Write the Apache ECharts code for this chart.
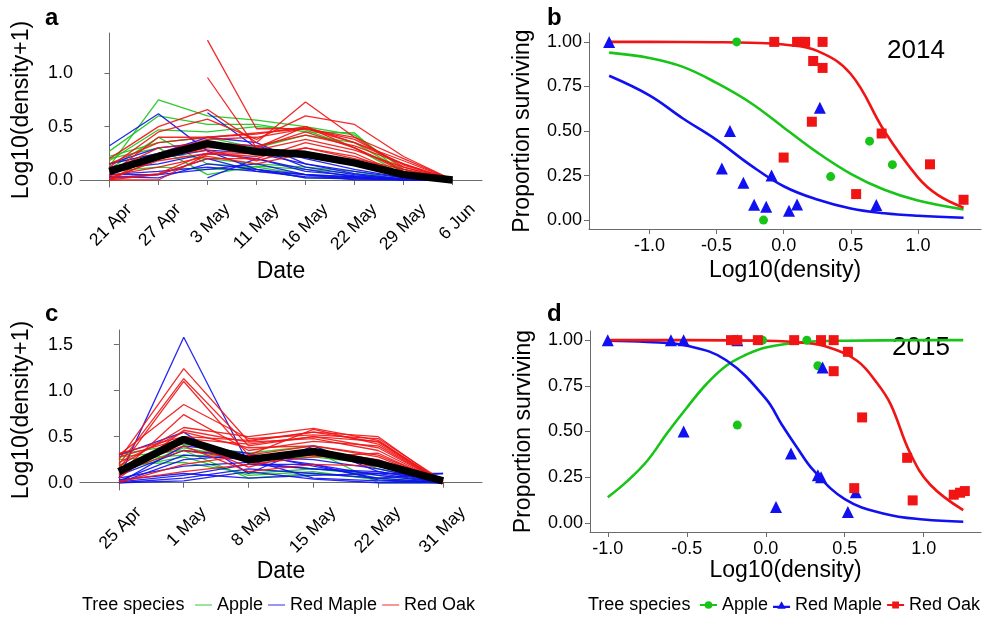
<!DOCTYPE html>
<html><head><meta charset="utf-8">
<script src="https://cdn.jsdelivr.net/npm/echarts@6/dist/echarts.min.js"></script>
<style>html,body{margin:0;padding:0;background:#fff}#c{width:985px;height:617px}</style>
</head><body><div id="c"></div><script>
// ---------- DATA ----------
const datesA = ['21 Apr','27 Apr','3 May','11 May','16 May','22 May','29 May','6 Jun'];
const datesC = ['25 Apr','1 May','8 May','15 May','22 May','31 May'];
const yTicksA = [0, 0.5, 1.0];
const yTicksC = [0, 0.5, 1.0, 1.5];
const yTicksBD = [0, 0.25, 0.5, 0.75, 1.0];
const xTicksBD = [-1.0, -0.5, 0.0, 0.5, 1.0];

// panel a (2014) individual trees, log10(density+1)
const appleA = [
  [0.13,0.75,0.60,0.56,0.50,0.42,0.10,0.0],
  [0.27,0.60,0.52,0.52,0.45,0.44,0.05,0.0],
  [0.18,0.47,0.45,0.50,0.47,0.30,0.05,0.0],
  [0.10,0.40,0.15,0.12,0.05,0.03,0.0,0.0],
  [0.20,0.30,0.05,0.13,0.10,0.06,0.0,0.0],
  [0.15,0.25,0.20,0.15,0.12,0.08,0.0,0.0],
  [0.08,0.12,0.10,0.10,0.02,0.01,0.0,0.0],
  [0.22,0.35,0.40,0.30,0.42,0.35,0.08,0.0]
];
const mapleA = [
  [0.32,0.62,0.27,0.10,0.05,0.03,0.0,0.0],
  [0.15,0.25,0.40,0.35,0.15,0.08,0.02,0.0],
  [null,null,0.63,0.30,0.12,0.05,0.0,0.0],
  [null,null,0.02,0.20,0.10,0.03,0.0,0.0],
  [0.05,0.05,0.20,0.08,0.05,0.02,0.0,0.0],
  [0.03,0.02,0.15,0.10,0.02,0.01,0.0,0.0],
  [0.10,0.15,0.25,0.20,0.08,0.04,0.01,0.0],
  [0.15,0.30,0.35,0.32,0.20,0.10,0.02,0.0],
  [0.05,0.08,0.12,0.08,0.03,0.02,0.0,0.0],
  [0.12,0.20,0.28,0.25,0.15,0.06,0.01,0.0],
  [0.02,0.05,0.10,0.15,0.05,0.0,0.0,0.0]
];
const oakA = [
  [null,null,1.31,0.48,0.48,0.40,0.20,0.0],
  [null,null,0.96,0.30,0.50,0.35,0.15,0.0],
  [0.20,0.50,0.66,0.35,0.73,0.40,0.12,0.0],
  [0.12,0.45,0.57,0.38,0.60,0.52,0.22,0.0],
  [0.05,0.40,0.40,0.43,0.50,0.30,0.10,0.0],
  [0.0,0.25,0.38,0.40,0.48,0.35,0.18,0.0],
  [0.0,0.20,0.30,0.30,0.45,0.30,0.08,0.0],
  [0.02,0.18,0.25,0.28,0.38,0.28,0.12,0.0],
  [0.0,0.05,0.20,0.20,0.35,0.25,0.05,0.0],
  [0.01,0.06,0.25,0.22,0.30,0.20,0.10,0.0],
  [0.0,0.0,0.24,0.25,0.22,0.15,0.04,0.0],
  [0.08,0.30,0.35,0.32,0.42,0.32,0.15,0.0],
  [0.10,0.22,0.28,0.18,0.30,0.22,0.06,0.0],
  [0.15,0.35,0.40,0.44,0.48,0.38,0.14,0.0],
  [0.04,0.12,0.22,0.15,0.25,0.18,0.03,0.0]
];
const meanA = [0.08,0.22,0.34,0.265,0.24,0.16,0.05,0.0];

// panel c (2015)
const appleC = [
  [0.31,0.42,0.32,0.40,0.15,0.0],
  [0.28,0.35,0.05,0.10,0.05,0.0],
  [0.25,0.30,0.28,0.35,0.0,0.0],
  [0.20,0.22,0.10,0.15,0.08,0.0],
  [0.10,0.38,0.25,0.28,0.20,0.0],
  [0.15,0.28,0.08,0.12,0.03,0.0]
];
const mapleC = [
  [0.05,1.58,0.20,0.15,0.10,0.0],
  [0.30,0.55,0.10,0.40,0.12,0.0],
  [0.0,0.40,0.32,0.18,0.05,0.10],
  [0.02,0.30,0.25,0.05,0.02,0.0],
  [0.0,0.05,0.15,0.10,0.05,0.0],
  [0.01,0.08,0.20,0.20,0.08,0.0],
  [0.05,0.18,0.22,0.15,0.12,0.02],
  [0.0,0.25,0.30,0.20,0.03,0.0],
  [0.03,0.10,0.05,0.08,0.10,0.10],
  [0.08,0.35,0.28,0.25,0.15,0.0],
  [0.0,0.02,0.12,0.04,0.0,0.0]
];
const oakC = [
  [0.25,1.24,0.45,0.55,0.50,0.0],
  [0.20,1.13,0.40,0.50,0.45,0.0],
  [0.15,1.10,0.30,0.58,0.42,0.0],
  [0.30,0.85,0.48,0.52,0.48,0.02],
  [0.10,0.74,0.35,0.45,0.40,0.0],
  [0.18,0.60,0.50,0.59,0.46,0.0],
  [0.05,0.57,0.44,0.48,0.35,0.0],
  [0.22,0.55,0.38,0.40,0.30,0.01],
  [0.32,0.50,0.46,0.55,0.44,0.0],
  [0.08,0.45,0.17,0.35,0.25,0.0],
  [0.02,0.12,0.20,0.28,0.32,0.0],
  [0.12,0.35,0.25,0.30,0.20,0.0],
  [0.28,0.48,0.42,0.50,0.38,0.0],
  [0.0,0.20,0.30,0.40,0.28,0.0],
  [0.15,0.40,0.12,0.20,0.18,0.0]
];
const meanC = [0.12,0.47,0.25,0.34,0.21,0.02];

// panel b (2014) survival points [log10(density), proportion]
const appleB = [[-0.35,1.0],[-0.15,0.0],[0.35,0.244],[0.64,0.443],[0.81,0.311]];
const mapleB = [[-1.30,1.0],[-0.40,0.50],[-0.46,0.29],[-0.30,0.21],[-0.09,0.25],[-0.22,0.086],[-0.13,0.075],[0.04,0.053],[0.10,0.088],[0.27,0.63],[0.69,0.085]];
const oakB = [[-0.07,1.0],[0.10,1.0],[0.13,1.0],[0.16,1.0],[0.29,1.0],[0.22,0.893],[0.29,0.854],[0.21,0.552],[0.0,0.351],[0.73,0.486],[0.54,0.146],[1.09,0.313],[1.34,0.114]];
// fitted curves
const appleFitB = [[-1.30,0.94],[-1.0,0.91],[-0.75,0.86],[-0.5,0.77],[-0.25,0.66],[0.0,0.52],[0.25,0.38],[0.5,0.26],[0.75,0.17],[1.0,0.11],[1.34,0.06]];
const mapleFitB = [[-1.30,0.81],[-1.0,0.70],[-0.75,0.57],[-0.5,0.45],[-0.25,0.31],[0.0,0.19],[0.25,0.115],[0.5,0.065],[0.75,0.038],[1.0,0.024],[1.34,0.013]];
const oakFitB = [[-1.30,1.0],[-1.0,1.0],[-0.5,0.998],[-0.25,0.995],[0.0,0.985],[0.25,0.95],[0.5,0.82],[0.75,0.50],[1.0,0.24],[1.15,0.14],[1.34,0.07]];

// panel d (2015)
const appleD = [[-0.18,0.535],[-0.02,1.0],[0.26,1.0],[0.33,0.86]];
const mapleD = [[-1.0,1.0],[-0.60,1.0],[-0.52,1.0],[-0.18,1.0],[-0.52,0.50],[0.16,0.38],[0.065,0.087],[0.33,0.26],[0.35,0.25],[0.36,0.85],[0.52,0.06],[0.57,0.167]];
const oakD = [[-0.22,1.0],[-0.18,1.0],[-0.05,1.0],[0.18,1.0],[0.35,1.0],[0.43,1.0],[0.52,0.936],[0.43,0.83],[0.61,0.577],[0.895,0.356],[0.93,0.123],[0.56,0.19],[1.19,0.154],[1.23,0.165],[1.26,0.174]];
const appleFitD = [[-1.0,0.14],[-0.875,0.23],[-0.75,0.34],[-0.625,0.49],[-0.5,0.63],[-0.375,0.76],[-0.25,0.86],[-0.125,0.92],[0.0,0.96],[0.25,0.99],[0.5,0.997],[1.0,1.0],[1.25,1.0]];
const mapleFitD = [[-1.0,0.997],[-0.75,0.99],[-0.5,0.97],[-0.25,0.89],[0.0,0.68],[0.1,0.54],[0.2,0.41],[0.3,0.29],[0.5,0.13],[0.75,0.05],[1.0,0.018],[1.25,0.006]];
const oakFitD = [[-1.0,1.0],[-0.5,1.0],[0.0,0.997],[0.25,0.985],[0.4,0.96],[0.58,0.886],[0.7,0.77],[0.79,0.65],[0.915,0.38],[1.04,0.21],[1.25,0.07]];

const species = ['Apple','Red Maple','Red Oak'];

// ---------- STYLE ----------
const GREEN = '#18c418', BLUE = '#1010f0', RED = '#f01414';
const FONT = '"Liberation Sans", Arial, Helvetica, sans-serif';
const AX = '#6b6b6b';

function xCatAxis(grid, labels, min, max, gap) {
  const idx = labels.map((_, i) => i);
  return {
    type: 'value', gridIndex: grid, min: min, max: max,
    name: 'Date', nameLocation: 'middle', nameGap: gap,
    nameTextStyle: {fontSize: 23, color: '#000', fontFamily: FONT},
    axisLine: {show: true, lineStyle: {color: AX, width: 1}},
    axisTick: {show: true, length: 5, lineStyle: {color: AX}, customValues: idx},
    axisLabel: {customValues: idx, rotate: 45, fontSize: 17.5, color: '#000', fontFamily: FONT, margin: 0,
      align: 'right', verticalAlign: 'top', padding: [19, 0, 0, 0],
      formatter: v => labels[Math.round(v)] || ''},
    splitLine: {show: false}
  };
}
function yAxisAC(grid, min, max, ticks) {
  return {
    type: 'value', gridIndex: grid, min: min, max: max,
    name: 'Log10(density+1)', nameLocation: 'middle', nameGap: 47,
    nameTextStyle: {fontSize: 23, color: '#000', fontFamily: FONT},
    axisLine: {show: true, lineStyle: {color: AX, width: 1}},
    axisTick: {show: true, length: 5, lineStyle: {color: AX}, customValues: ticks},
    axisLabel: {customValues: ticks, fontSize: 18, color: '#000', fontFamily: FONT, margin: 7,
      formatter: v => v.toFixed(1)},
    splitLine: {show: false}
  };
}
function xAxisBD(grid, min, max, gap) {
  return {
    type: 'value', gridIndex: grid, min: min, max: max,
    name: 'Log10(density)', nameLocation: 'middle', nameGap: gap,
    nameTextStyle: {fontSize: 23, color: '#000', fontFamily: FONT},
    axisLine: {show: true, onZero: false, lineStyle: {color: AX, width: 1}},
    axisTick: {show: true, length: 5, lineStyle: {color: AX}, customValues: xTicksBD},
    axisLabel: {customValues: xTicksBD, fontSize: 18, color: '#000', fontFamily: FONT, margin: 8,
      formatter: v => v.toFixed(1)},
    splitLine: {show: false}
  };
}
function yAxisBD(grid) {
  return {
    type: 'value', gridIndex: grid, min: -0.05, max: 1.05,
    name: 'Proportion surviving', nameLocation: 'middle', nameGap: 55,
    nameTextStyle: {fontSize: 23, color: '#000', fontFamily: FONT},
    axisLine: {show: true, onZero: false, lineStyle: {color: AX, width: 1}},
    axisTick: {show: true, length: 5, lineStyle: {color: AX}, customValues: yTicksBD},
    axisLabel: {customValues: yTicksBD, fontSize: 18, color: '#000', fontFamily: FONT, margin: 7,
      formatter: v => v.toFixed(2)},
    splitLine: {show: false}
  };
}

const series = [];
function addTrees(rows, color, name, ai) {
  rows.forEach(r => {
    series.push({
      type: 'line', name: name, xAxisIndex: ai, yAxisIndex: ai, symbol: 'none',
      data: r.map((v, i) => v == null ? null : [i, v]).filter(Boolean),
      lineStyle: {color: color, width: 1.3, opacity: 0.9}, itemStyle: {color: color},
      silent: true, z: 2
    });
  });
}
function addMean(vals, ai) {
  series.push({type: 'line', name: 'mean', xAxisIndex: ai, yAxisIndex: ai, symbol: 'none',
    data: vals.map((v, i) => [i, v]), lineStyle: {color: '#000', width: 7.5}, silent: true, z: 5});
}
addTrees(appleA, GREEN, 'Apple', 0); addTrees(mapleA, BLUE, 'Red Maple', 0); addTrees(oakA, RED, 'Red Oak', 0); addMean(meanA, 0);
addTrees(appleC, GREEN, 'Apple', 2); addTrees(mapleC, BLUE, 'Red Maple', 2); addTrees(oakC, RED, 'Red Oak', 2); addMean(meanC, 2);

function addSurv(ai, pts, fit, color, sym, size, name) {
  series.push({type: 'line', name: name, xAxisIndex: ai, yAxisIndex: ai, symbol: 'none', smooth: 0.4,
    data: fit, lineStyle: {color: color, width: 2.6}, itemStyle: {color: color}, silent: true, z: 3});
  series.push({type: 'scatter', name: name, xAxisIndex: ai, yAxisIndex: ai, symbol: sym, symbolSize: size,
    data: pts, itemStyle: {color: color, opacity: 1}, silent: true, z: 4});
}
addSurv(1, appleB, appleFitB, GREEN, 'circle', 9, 'pApple');
addSurv(1, mapleB, mapleFitB, BLUE, 'triangle', 12, 'pRed Maple');
addSurv(1, oakB, oakFitB, RED, 'rect', 10, 'pRed Oak');
addSurv(3, appleD, appleFitD, GREEN, 'circle', 9, 'pApple');
addSurv(3, mapleD, mapleFitD, BLUE, 'triangle', 12, 'pRed Maple');
addSurv(3, oakD, oakFitD, RED, 'rect', 10, 'pRed Oak');

const lineIcon = 'path://M0,0H20V1.3H0Z';
const circIcon = 'path://M0,3.2H20V5.8H0Z M14.5,4.5A4.5,4.5,0,1,1,5.5,4.5A4.5,4.5,0,1,1,14.5,4.5Z';
const triIcon = 'path://M0,5.4H20V8H0Z M10,0L15,9H5Z';
const sqIcon = 'path://M0,3.2H20V5.8H0Z M6,0.5H14V8.5H6Z';
const colors = [GREEN, BLUE, RED];

const option = {
  animation: false,
  backgroundColor: '#fff',
  textStyle: {fontFamily: FONT},
  grid: [
    {left: 80, top: 33, width: 402, height: 154},
    {left: 589, top: 33, width: 392, height: 196},
    {left: 80, top: 330, width: 402, height: 160},
    {left: 590, top: 331, width: 391, height: 201}
  ],
  xAxis: [
    xCatAxis(0, datesA, -0.6, datesA.length - 1 + 0.6, 73),
    xAxisBD(1, -1.45, 1.47, 30),
    xCatAxis(2, datesC, -0.6, datesC.length - 1 + 0.6, 65),
    xAxisBD(3, -1.1125, 1.3625, 25)
  ],
  yAxis: [
    yAxisAC(0, -0.066, 1.377, yTicksA),
    yAxisBD(1),
    yAxisAC(2, -0.079, 1.659, yTicksC),
    yAxisBD(3)
  ],
  legend: [
    {left: 195, top: 596, padding: 0, width: 400, selectedMode: false, itemWidth: 17, itemHeight: 10, itemGap: 5,
      textStyle: {fontSize: 18, color: '#000', fontFamily: FONT},
      data: species.map((s, i) => ({name: s, icon: lineIcon, itemStyle: {color: colors[i], opacity: 0.8}}))},
    {left: 700, top: 596, padding: 0, width: 400, selectedMode: false, itemWidth: 17, itemHeight: 10, itemGap: 5,
      textStyle: {fontSize: 18, color: '#000', fontFamily: FONT},
      formatter: n => n.slice(1),
      data: species.map((s, i) => ({name: 'p' + s, icon: [circIcon, triIcon, sqIcon][i], itemStyle: {color: colors[i]}}))}
  ],
  graphic: [
    {type: 'text', left: 82, top: 596, style: {text: 'Tree species', font: '18px ' + FONT, fill: '#000'}},
    {type: 'text', left: 588, top: 596, style: {text: 'Tree species', font: '18px ' + FONT, fill: '#000'}},
    {type: 'text', left: 45, top: 6, style: {text: 'a', font: 'bold 24px ' + FONT, fill: '#000'}},
    {type: 'text', left: 547, top: 6, style: {text: 'b', font: 'bold 24px ' + FONT, fill: '#000'}},
    {type: 'text', left: 45, top: 302, style: {text: 'c', font: 'bold 24px ' + FONT, fill: '#000'}},
    {type: 'text', left: 547, top: 302, style: {text: 'd', font: 'bold 24px ' + FONT, fill: '#000'}},
    {type: 'text', left: 887, top: 38, style: {text: '2014', font: '26px ' + FONT, fill: '#000'}},
    {type: 'text', left: 892, top: 335, style: {text: '2015', font: '26px ' + FONT, fill: '#000'}}
  ],
  series: series
};
const chart = echarts.init(document.getElementById('c'), null, {renderer: 'canvas'});
chart.setOption(option);
</script></body></html>
